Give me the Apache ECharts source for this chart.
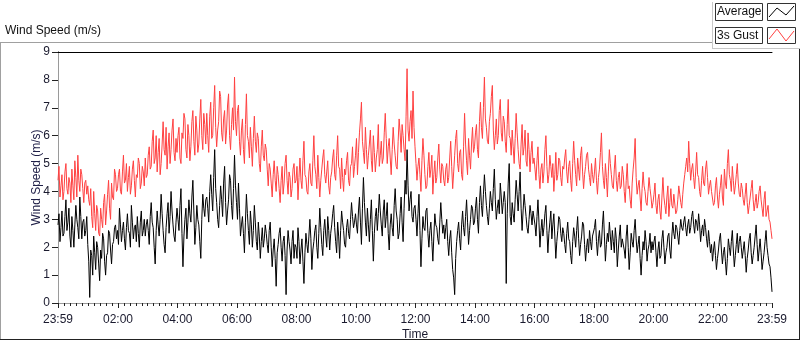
<!DOCTYPE html>
<html>
<head>
<meta charset="utf-8">
<script src="https://cdn.jsdelivr.net/npm/echarts@6/dist/echarts.min.js"></script>
<style>
  html, body { margin: 0; padding: 0; background: #fff; }
  #main { width: 800px; height: 342px; }
</style>
</head>
<body>
<div id="main"></div>
<script>
// one value every 2 minutes, starting at 23:59 of the previous day (one row = one hour)
const stepMinutes = 2

const gustSpeed = [
  4.4,4.9,3.8,4.2,4.6,3.7,4.0,4.7,5.0,4.1,3.9,4.5,4.3,3.6,4.8,4.2,3.7,5.1,4.5,3.8,5.3,4.4,4.0,4.8,4.6,4.1,3.6,4.3,4.4,3.9,
  4.2,3.7,3.5,4.1,3.1,2.7,4.0,3.2,2.6,3.5,3.3,2.5,2.4,3.4,3.0,2.7,3.6,3.9,2.8,3.3,3.9,4.4,3.4,3.0,4.3,3.8,3.7,4.8,4.6,4.0,
  4.1,4.6,4.8,4.0,3.9,4.7,5.3,4.3,4.4,5.0,4.0,4.5,4.9,3.9,4.2,4.8,5.1,4.4,3.8,4.6,4.5,5.2,5.0,4.1,4.3,4.9,4.7,4.2,5.2,4.5,
  4.6,5.3,5.6,4.8,4.9,5.8,6.2,5.0,5.2,6.0,4.7,5.4,5.9,4.6,5.0,5.7,6.5,5.5,5.3,6.3,4.8,5.6,6.1,5.0,5.5,6.2,6.6,5.4,5.1,5.9,
  5.4,6.0,6.3,5.2,5.0,6.1,5.9,6.8,6.6,5.5,5.2,6.4,6.0,5.1,5.6,6.5,6.9,5.8,5.3,6.7,6.2,5.4,5.7,6.6,7.3,6.0,5.5,6.8,6.4,5.7,
  6.8,6.0,5.4,6.7,7.2,5.9,6.0,7.0,7.8,6.3,5.6,6.2,6.5,7.6,7.4,6.1,5.8,6.6,6.9,5.7,6.2,7.1,7.5,6.0,5.5,6.4,7.0,6.2,8.1,6.5,
  6.0,6.9,7.1,5.8,5.3,6.2,6.6,5.5,5.0,6.4,7.5,6.0,5.8,5.2,6.3,5.6,4.9,5.9,6.7,5.8,5.4,6.1,5.9,5.0,4.7,5.6,6.2,5.3,5.1,5.7,
  5.5,4.8,4.2,5.0,4.8,4.3,3.8,4.6,5.1,4.4,4.0,4.9,4.6,4.1,3.6,4.4,4.9,3.9,4.3,5.0,5.3,4.4,3.9,4.7,4.5,3.8,4.1,4.8,5.0,4.3,
  4.4,4.9,3.7,4.5,5.2,4.4,4.1,5.1,5.8,4.6,4.5,4.0,3.9,4.7,5.0,4.3,4.2,5.1,6.0,4.9,4.6,4.1,5.3,4.5,3.8,4.4,4.8,5.2,5.5,4.6,
  4.3,4.7,5.1,4.2,3.9,4.5,4.7,5.2,5.5,4.6,4.4,5.3,6.0,4.9,4.8,4.1,5.2,4.5,4.0,4.8,4.6,5.1,5.4,4.4,4.2,4.9,5.0,5.6,4.5,4.9,
  5.3,5.9,4.6,5.4,6.1,6.6,7.2,5.8,5.4,5.0,6.3,5.5,4.8,5.3,5.7,6.2,5.1,4.7,6.0,5.4,4.7,5.2,5.5,6.4,4.9,5.3,5.8,5.0,5.2,6.1,
  6.8,5.9,5.0,5.6,5.9,5.2,4.6,5.5,6.3,5.7,5.3,4.9,4.8,5.8,6.6,6.1,5.4,6.4,6.0,5.5,5.1,6.7,8.4,6.2,5.8,6.5,6.9,5.9,7.6,6.3,
  5.6,5.0,4.4,4.9,5.2,4.6,4.0,5.1,5.9,5.3,4.6,4.1,4.2,4.9,5.4,4.5,4.8,5.3,3.9,4.6,5.1,4.3,4.5,5.2,5.7,4.8,4.3,5.0,4.9,4.4,
  4.2,4.8,5.0,4.3,4.5,5.2,5.8,4.9,4.1,4.7,5.3,5.9,6.2,5.0,4.7,5.4,5.5,4.6,4.4,5.6,6.8,5.7,5.1,4.6,5.9,5.3,4.8,5.7,6.3,5.4,
  5.6,6.1,6.4,5.5,5.2,6.5,7.2,6.3,5.9,7.0,8.1,6.6,6.3,5.8,5.7,6.5,6.8,7.4,7.8,6.2,5.5,6.0,6.6,5.7,6.0,6.9,7.3,6.1,5.8,6.7,
  6.5,5.8,5.4,6.4,7.3,6.0,5.9,5.3,6.2,5.6,5.0,5.9,6.8,6.1,5.5,5.0,4.8,5.7,6.4,5.3,5.6,6.2,5.1,4.9,6.1,5.5,4.7,5.4,5.8,5.0,
  5.2,4.8,4.4,5.1,5.6,4.6,4.1,4.8,5.0,4.3,4.7,5.5,6.0,4.9,4.3,4.6,5.3,4.9,4.5,5.0,4.0,4.6,5.4,4.4,4.6,5.2,5.1,4.5,4.2,4.9,
  4.8,5.2,5.5,4.7,4.3,4.9,5.1,4.4,4.0,5.0,5.8,5.1,4.6,4.2,5.2,4.8,4.4,5.3,5.6,4.7,4.1,4.6,4.9,5.3,5.4,4.8,4.5,4.2,5.0,4.6,
  4.3,4.7,5.2,4.4,3.9,4.5,4.8,5.4,6.1,4.9,4.4,4.1,5.0,4.5,3.8,4.7,5.5,5.0,4.6,4.2,4.1,4.8,5.3,4.4,4.0,4.5,4.7,4.1,4.2,4.9,
  4.6,4.0,3.6,4.4,5.0,4.1,4.2,3.7,3.4,4.3,4.8,5.2,5.9,4.5,3.9,4.2,4.4,3.8,3.3,4.1,4.7,4.2,4.0,3.6,3.5,4.0,4.5,4.1,3.8,3.4,
  3.6,3.9,4.3,3.5,3.2,3.7,3.9,3.3,3.0,3.8,4.5,3.8,3.5,3.2,3.8,4.2,3.1,3.6,4.1,3.5,3.4,3.9,3.9,3.2,3.3,3.7,4.2,3.9,3.6,3.4,
  3.9,4.3,4.6,4.9,5.2,4.7,5.8,5.0,4.4,4.8,5.0,4.5,4.1,4.7,5.4,4.6,4.5,4.0,3.8,4.4,4.9,4.3,4.2,4.8,5.1,4.5,3.9,4.2,4.4,4.0,
  4.0,3.5,3.6,4.2,4.5,3.8,3.4,3.9,4.2,4.6,3.8,3.5,4.8,4.3,4.1,5.0,5.5,4.6,4.4,4.0,4.9,4.4,3.9,4.2,4.6,5.0,4.3,3.9,3.8,4.3,
  4.1,3.7,3.5,3.9,4.3,3.6,3.2,3.5,3.8,4.1,4.4,3.7,3.3,3.6,3.9,3.4,3.6,4.0,4.2,3.7,3.4,3.1,3.7,4.0,3.1,3.3,3.5,3.0,2.9,2.6,
  2.3
]

const avgSpeed = [
  2.8,3.2,2.2,2.7,3.3,2.4,2.5,3.1,3.7,2.6,2.9,3.4,2.4,2.0,3.1,2.6,2.0,2.8,3.5,3.0,2.7,2.3,3.8,3.1,2.3,2.9,3.0,2.4,2.6,3.1,
  2.1,1.5,0.2,1.9,1.7,1.0,2.4,1.8,1.2,2.2,2.0,1.4,0.8,1.9,1.6,2.5,2.3,1.5,1.0,1.7,1.8,2.6,2.5,1.9,1.4,2.1,2.2,2.7,2.8,2.3,
  2.6,2.1,3.4,2.8,2.2,2.6,2.9,2.3,1.9,2.7,3.2,2.6,2.5,2.0,3.5,2.9,2.3,2.7,2.8,2.2,3.1,2.5,2.0,2.9,3.3,2.4,2.6,3.0,2.4,2.8,
  3.0,2.6,2.1,3.1,3.6,2.9,2.7,2.0,1.4,2.6,3.3,2.8,2.4,3.0,3.9,3.2,2.6,2.1,1.8,2.7,3.2,3.6,2.5,3.1,4.0,3.3,2.8,2.4,2.2,2.9,
  3.4,3.0,2.6,3.5,4.1,2.5,1.3,2.4,3.0,3.4,2.3,2.9,3.7,3.2,2.9,3.8,4.4,3.3,2.1,2.7,3.5,3.0,2.8,2.2,1.6,3.0,3.9,3.4,3.1,3.7,
  3.8,3.4,2.9,4.0,4.6,3.9,3.3,4.5,5.5,4.1,3.6,3.0,2.7,3.5,4.2,3.7,3.1,4.3,4.9,3.6,2.8,3.3,3.7,4.6,4.4,3.5,3.0,4.1,5.3,4.2,
  3.6,3.0,4.3,3.4,2.4,2.8,3.1,2.5,1.8,2.9,3.9,3.2,2.6,2.1,3.3,2.8,2.0,2.6,3.5,2.9,2.2,1.9,2.9,2.4,1.6,2.2,2.7,2.0,2.3,2.8,
  2.5,2.1,1.8,2.6,2.9,2.0,1.3,1.9,2.3,1.6,0.6,1.8,2.1,2.5,2.7,2.0,1.5,2.2,2.4,1.7,0.3,1.9,2.6,2.2,1.9,1.4,2.2,2.6,1.6,2.1,
  2.0,1.6,2.7,2.2,1.4,1.9,2.3,1.5,0.7,1.8,2.5,2.1,1.8,2.4,3.0,2.3,1.2,1.9,2.2,2.6,2.8,2.0,1.6,2.5,3.4,2.7,2.1,1.7,2.6,3.0,
  2.4,2.0,3.1,2.6,1.9,2.5,2.8,3.2,3.5,2.7,2.2,1.8,2.9,2.4,1.6,2.6,3.3,2.9,2.6,2.1,2.0,2.7,3.0,2.5,2.3,3.0,3.6,3.1,2.7,2.9,
  3.2,2.8,2.5,3.3,3.8,2.9,2.1,3.4,4.5,3.6,2.9,2.4,3.4,2.8,2.2,3.0,3.7,2.6,1.5,2.5,3.1,3.4,2.6,3.2,3.9,3.3,2.8,2.4,3.3,3.7,
  2.7,3.1,3.6,2.5,1.9,2.8,3.2,2.7,2.4,3.5,4.1,3.3,3.0,2.3,2.5,3.2,3.8,2.9,2.2,3.4,4.4,3.9,5.5,4.2,3.3,3.7,4.0,3.1,2.9,3.4,
  3.5,3.0,2.4,3.2,3.9,2.6,1.3,2.3,3.1,2.7,2.6,3.3,3.4,2.5,2.0,2.6,2.9,2.2,1.5,2.4,3.2,2.8,2.7,2.3,2.1,2.9,3.6,3.0,2.5,2.8,
  2.3,2.7,3.0,2.2,1.7,2.3,2.6,1.8,1.2,0.9,0.3,1.6,2.2,2.6,2.9,2.3,1.9,2.8,3.3,2.7,2.4,3.1,3.7,2.9,2.1,2.6,3.0,3.5,3.4,2.8,
  2.9,3.4,3.8,3.0,2.5,3.6,4.2,3.5,3.1,3.9,4.6,4.0,3.5,3.1,2.8,3.4,4.0,3.6,3.3,4.1,4.8,3.7,3.0,3.4,3.7,3.2,4.3,3.8,3.2,3.6,
  4.0,3.6,0.7,3.2,4.3,5.0,3.1,2.8,3.6,3.2,2.9,3.7,4.4,3.9,3.3,4.0,4.7,3.4,2.6,3.3,3.9,3.5,3.1,2.7,2.5,3.0,3.5,3.2,2.8,3.3,
  3.3,2.8,2.4,3.1,3.7,2.9,2.0,2.6,3.0,2.4,2.7,3.2,3.5,2.6,1.8,2.5,2.9,3.3,2.3,2.8,3.2,2.4,1.6,2.2,2.6,3.1,3.0,2.5,2.2,2.7,
  2.5,2.1,1.8,2.5,2.9,2.3,2.2,1.7,1.4,2.2,2.7,2.4,2.0,2.6,3.1,2.3,1.7,2.1,2.4,2.9,2.8,2.1,1.5,2.0,2.3,1.8,2.6,2.2,1.9,2.4,
  2.4,2.7,3.0,2.2,1.7,2.3,2.6,2.0,2.1,2.8,3.3,2.4,1.5,2.1,2.5,2.2,2.9,2.4,1.9,2.6,2.2,1.8,2.7,2.3,1.3,1.9,2.4,2.8,2.0,2.3,
  2.3,1.9,1.6,2.4,2.8,2.0,1.2,1.8,2.5,2.2,2.0,2.6,3.0,2.3,1.8,2.1,2.4,1.6,1.0,1.7,2.2,1.9,2.6,2.2,1.5,1.9,2.1,2.5,1.8,2.2,
  1.9,2.2,2.4,1.8,1.3,1.9,2.2,1.6,1.7,2.3,2.6,2.0,1.4,1.8,2.0,2.4,2.5,1.9,1.6,2.4,2.9,2.5,2.3,2.8,2.7,2.4,2.1,2.6,3.0,2.7,
  2.6,2.9,3.1,2.7,2.4,2.8,3.0,2.5,2.7,3.1,3.3,2.8,2.5,3.0,2.9,2.6,3.2,2.8,2.2,2.6,2.8,2.4,3.0,2.7,2.3,2.0,2.6,2.2,1.8,2.1,
  1.5,1.9,2.2,1.7,1.2,1.6,1.9,2.3,2.5,1.9,1.4,1.8,2.0,1.5,1.0,1.6,2.3,2.0,1.7,2.2,2.6,1.9,1.3,1.7,2.1,2.5,1.8,2.2,2.4,2.0,
  1.6,1.9,2.2,1.7,1.1,1.6,1.9,2.3,2.5,1.8,1.4,1.7,2.0,2.4,2.8,2.1,1.5,1.9,2.3,1.8,1.2,1.5,1.8,2.2,2.6,2.0,1.7,1.4,1.3,0.9,
  0.4
]

// minutes after 23:59 where the time labels sit
const tickMinutes = [0,121,241,361,481,601,721,841,961,1081,1201,1321,1440]
const tickLabels = ['23:59','02:00','04:00','06:00','08:00','10:00','12:00','14:00','16:00','18:00','20:00','22:00','23:59']

const minorTicks = []
for (let m = 1; m < 1440; m += 12) minorTicks.push(m)

const font = 'Liberation Sans'
const txt = '#1a1a2e'

const main = document.getElementById('main')
let myChart = echarts.init(main)

const zig = (x, y, pts) => pts.map(p => [x + p[0], y + p[1]])

myChart.setOption({
  animation: false,
  textStyle: { fontFamily: font },
  grid: { left: 58, right: 28, top: 52, bottom: 39, containLabel: false, outerBoundsMode: 'none' },
  xAxis: [
    {
      type: 'value', min: 0, max: 1440,
      name: 'Time', nameLocation: 'middle', nameGap: 26, nameMoveOverlap: false,
      nameTextStyle: { color: txt, fontSize: 12, fontFamily: font },
      axisLine: { show: true, lineStyle: { color: '#9a9a9a', width: 1 } },
      axisTick: { show: true, customValues: tickMinutes, length: 5, lineStyle: { color: '#222' } },
      axisLabel: {
        show: true, customValues: tickMinutes, margin: 11, color: txt, fontSize: 12, fontFamily: font,
        formatter: v => tickLabels[tickMinutes.indexOf(v)] || ''
      },
      splitLine: { show: false }
    },
    {
      type: 'value', min: 0, max: 1440, position: 'bottom',
      axisLine: { show: false },
      axisTick: { show: true, customValues: minorTicks, length: 3, lineStyle: { color: '#222' } },
      axisLabel: { show: false },
      splitLine: { show: false }
    },
    {
      type: 'value', min: 0, max: 1440, position: 'top',
      axisLine: { show: true, lineStyle: { color: '#000', width: 1 } },
      axisTick: { show: false }, axisLabel: { show: false }, splitLine: { show: false }
    }
  ],
  yAxis: [
    {
      type: 'value', min: 0, max: 9, interval: 1,
      name: 'Wind Speed (m/s)', nameLocation: 'middle', nameGap: 15, nameRotate: 90, nameMoveOverlap: false,
      nameTextStyle: { color: '#202048', fontSize: 12, fontFamily: font },
      axisLine: { show: true, lineStyle: { color: '#000', width: 1 } },
      axisTick: { show: true, length: 6, lineStyle: { color: '#222' } },
      axisLabel: { margin: 8, color: txt, fontSize: 12, fontFamily: font },
      splitLine: { show: false }
    },
    {
      type: 'value', min: 0, max: 9, position: 'right',
      axisLine: { show: true, lineStyle: { color: '#9a9a9a', width: 1 } },
      axisTick: { show: false }, axisLabel: { show: false }, splitLine: { show: false }
    }
  ],
  series: [
    {
      name: '3s Gust', type: 'line', showSymbol: false, sampling: 'none',
      lineStyle: { color: '#ff4040', width: 1 },
      data: gustSpeed.map((v, i) => [i * stepMinutes, v])
    },
    {
      name: 'Average', type: 'line', showSymbol: false, sampling: 'none',
      lineStyle: { color: '#000', width: 1 },
      data: avgSpeed.map((v, i) => [i * stepMinutes, v])
    }
  ],
  graphic: [
    { type: 'text', left: 5, top: 25, style: { text: 'Wind Speed (m/s)', fontSize: 12, fontFamily: font, fill: '#111' } },
    // outer panel frame
    { type: 'line', shape: { x1: 0, y1: 42.5, x2: 712, y2: 42.5 }, style: { stroke: '#a0a0a0', lineWidth: 1 } },
    { type: 'line', shape: { x1: 0.5, y1: 42, x2: 0.5, y2: 340 }, style: { stroke: '#a0a0a0', lineWidth: 1 } },
    { type: 'line', shape: { x1: 0, y1: 339.5, x2: 800, y2: 339.5 }, style: { stroke: '#222', lineWidth: 1 } },
    { type: 'line', shape: { x1: 799.5, y1: 49, x2: 799.5, y2: 340 }, style: { stroke: '#222', lineWidth: 1 } },
    // legend panel
    { type: 'line', shape: { x1: 712.5, y1: 2, x2: 712.5, y2: 49 }, style: { stroke: '#c8c8c8', lineWidth: 1 } },
    { type: 'line', shape: { x1: 712, y1: 48.5, x2: 800, y2: 48.5 }, style: { stroke: '#c8c8c8', lineWidth: 1 } },
    { type: 'rect', shape: { x: 715.5, y: 3.5, width: 47, height: 17 }, style: { fill: '#fff', stroke: '#333', lineWidth: 1 } },
    { type: 'text', left: 717, top: 6, style: { text: 'Average', fontSize: 12, fontFamily: font, fill: '#111' } },
    { type: 'rect', shape: { x: 767.5, y: 3.5, width: 28, height: 17 }, style: { fill: '#fff', stroke: '#333', lineWidth: 1 } },
    { type: 'polyline', shape: { points: zig(769, 6, [[0, 11], [8, 2], [17, 9], [25, 0]]) }, style: { stroke: '#000', lineWidth: 1, fill: null } },
    { type: 'rect', shape: { x: 715.5, y: 27.5, width: 47, height: 16 }, style: { fill: '#fff', stroke: '#333', lineWidth: 1 } },
    { type: 'text', left: 717, top: 30, style: { text: '3s Gust', fontSize: 12, fontFamily: font, fill: '#111' } },
    { type: 'rect', shape: { x: 767.5, y: 27.5, width: 28, height: 16 }, style: { fill: '#fff', stroke: '#333', lineWidth: 1 } },
    { type: 'polyline', shape: { points: zig(769, 29, [[0, 10], [8, 0], [17, 12], [25, 2]]) }, style: { stroke: '#ff4040', lineWidth: 1, fill: null } }
  ]
});
</script>
</body>
</html>
